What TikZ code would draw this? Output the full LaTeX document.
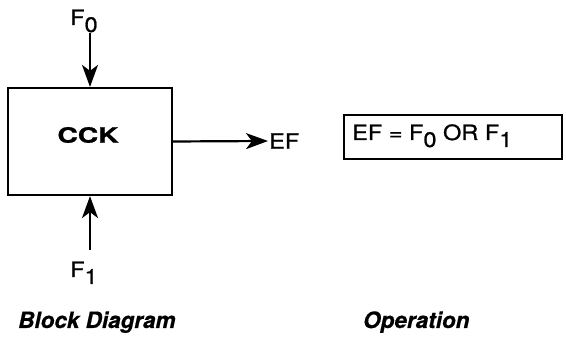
\documentclass[tikz,border=0pt]{standalone}
\usepackage{fontspec}
\setmainfont[FakeStretch=1.12,FakeBold=1]{TeX Gyre Heros}
\newfontfamily\ttlfont[FakeBold=0.6]{TeX Gyre Heros}
\usetikzlibrary{arrows.meta}
\newcommand{\sbs}[1]{\raisebox{-7pt}{#1}}
\tikzset{
  lbl/.style={inner sep=1pt, font=\fontsize{21}{24}\selectfont},
  ttl/.style={inner sep=0pt, anchor=base west, font=\ttlfont\fontsize{22.5}{26}\selectfont\bfseries\itshape},
  sig/.style={line width=2.2pt, -{Stealth[length=22pt,width=16pt,inset=6pt]}},
  blk/.style={draw, line width=2.2pt},
  opbox/.style={draw, line width=1.3pt}
}
\begin{document}
\begin{tikzpicture}[x=1pt,y=1pt]
\useasboundingbox (0,0) rectangle (566,350);
% block
\node[blk, minimum width=164pt, minimum height=107pt, inner sep=0pt] (box) at (90,208.5) {};
\node[lbl, font=\fontsize{21}{24}\selectfont\bfseries] (cck) at (88,215) {\scalebox{1.2}[1]{CCK}};
% inputs/outputs
\node[lbl, anchor=base west] (f0) at (69,325) {F\sbs{0}};
\node[lbl, anchor=base west] (f1) at (69,73) {F\sbs{1}};
\node[lbl, anchor=west] (ef) at (268,209) {EF};
\coordinate (f0end) at (90,317);
\coordinate (f1end) at (90,100);
\draw[sig] (f0end) -- (box.north);
\draw[sig] (f1end) -- (box.south);
\draw[sig] (box.east) -- (ef.west);
% operation
\node[opbox, minimum width=218pt, minimum height=44pt, inner sep=0pt] (op) at (453,213) {};
\node[lbl, anchor=base west] (eq) at (351,210) {EF = F\sbs{0} OR F\sbs{1}};
% titles
\node[ttl] (t1) at (18,22) {Block Diagram};
\node[ttl] (t2) at (363,22) {Operation};
\end{tikzpicture}
\end{document}
